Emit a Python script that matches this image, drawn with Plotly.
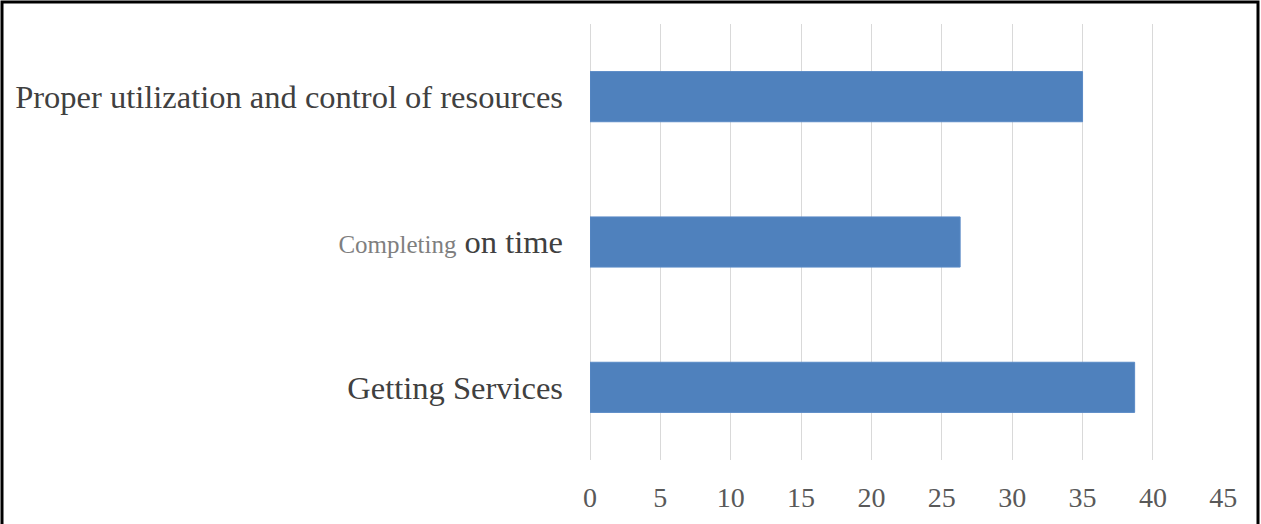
import plotly.graph_objects as go

categories = ["Getting Services",
              "<span style='font-size:25px;color:#7f7f7f'>Completing</span> on time",
              "Proper utilization and control of resources"]
values = [38.7, 26.3, 35.0]
tick_vals = [0, 5, 10, 15, 20, 25, 30, 35, 40, 45]

fig = go.Figure(go.Bar(
    y=categories, x=values, orientation="h",
    marker=dict(color="#4f81bd", line=dict(color="#5a8ac6", width=1)),
    width=0.345,
))

L, R, T, B = 590, 37, 24, 64
W, H = 1261, 524
pw, ph = W - L - R, H - T - B

fig.update_layout(
    width=W, height=H,
    margin=dict(l=L, r=R, t=T, b=B),
    paper_bgcolor="white", plot_bgcolor="white",
    showlegend=False,
    font=dict(family="Liberation Serif, Times New Roman, serif", color="#404040"),
    xaxis=dict(range=[0, 45.05], tickvals=tick_vals, showgrid=True,
               gridcolor="#d9d9d9", gridwidth=1,
               zeroline=True, zerolinecolor="#d9d9d9", zerolinewidth=1,
               showline=False,
               ticks="", tickfont=dict(size=28, color="#595959"),
               ticklabelstandoff=18, fixedrange=True),
    yaxis=dict(showgrid=False, zeroline=False, showline=False, ticks="",
               tickfont=dict(size=32.5, color="#404040"),
               ticklabelstandoff=26, range=[-0.5, 2.5], fixedrange=True),
    shapes=[dict(type="rect", xref="paper", yref="paper",
                 x0=(2 - L) / pw, x1=(W - 3 - L) / pw,
                 y0=(H - B - (H + 10)) / ph, y1=(H - B - 2) / ph,
                 line=dict(color="black", width=3), fillcolor="rgba(0,0,0,0)")],
)

fig.write_html("out.html")
